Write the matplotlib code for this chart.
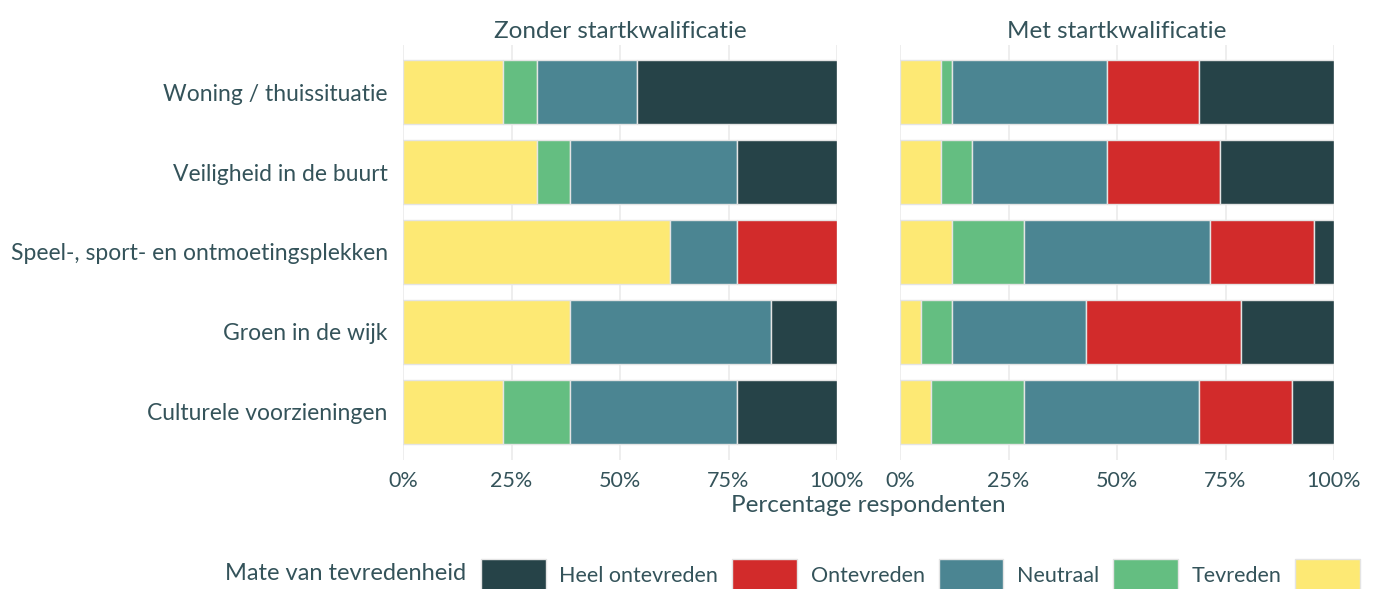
import matplotlib.pyplot as plt
from matplotlib.patches import Patch

plt.rcParams['font.family'] = ['Lato', 'DejaVu Sans']

TEXT = '#34535A'

categories = ['Woning / thuissituatie', 'Veiligheid in de buurt',
              'Speel-, sport- en ontmoetingsplekken', 'Groen in de wijk',
              'Culturele voorzieningen']
levels = ['Heel tevreden', 'Tevreden', 'Neutraal', 'Ontevreden', 'Heel ontevreden']
colors = ['#FDE974', '#64BE81', '#4B8592', '#D22B2B', '#264348']

# percentages per level, same order as categories
zonder_heel_tevreden = [23.1, 30.8, 61.5, 38.5, 23.1]
zonder_tevreden = [7.7, 7.7, 0, 0, 15.4]
zonder_neutraal = [23.1, 38.5, 15.4, 46.2, 38.5]
zonder_ontevreden = [0, 0, 23.1, 0, 0]
zonder_heel_ontevreden = [46.1, 23.0, 0, 15.3, 23.0]

met_heel_tevreden = [9.5, 9.5, 11.9, 4.8, 7.1]
met_tevreden = [2.4, 7.1, 16.7, 7.1, 21.4]
met_neutraal = [35.7, 31.0, 42.9, 31.0, 40.5]
met_ontevreden = [21.4, 26.2, 23.8, 35.7, 21.4]
met_heel_ontevreden = [31.0, 26.2, 4.7, 21.4, 9.6]

panels = [
    ('Zonder startkwalificatie', [zonder_heel_tevreden, zonder_tevreden, zonder_neutraal,
                                  zonder_ontevreden, zonder_heel_ontevreden]),
    ('Met startkwalificatie', [met_heel_tevreden, met_tevreden, met_neutraal,
                               met_ontevreden, met_heel_ontevreden]),
]

W, H = 1376, 589
fig = plt.figure(figsize=(W / 100, H / 100), dpi=100)

ax_left = [403, 900]
ax_w = 434
top, bottom = 44.5, 459.5

for i, (title, series) in enumerate(panels):
    ax = fig.add_axes([ax_left[i] / W, 1 - bottom / H, ax_w / W, (bottom - top) / H])
    ypos = list(range(len(categories)))
    left = [0.0] * len(categories)
    for vals, col in zip(series, colors):
        for y in ypos:
            if vals[y] > 0:
                ax.barh(y, vals[y], left=left[y], height=0.8, color=col,
                        edgecolor='#E4E4E4', linewidth=1, zorder=2)
            left[y] += vals[y]
    ax.set_xlim(0, 100)
    ax.set_ylim(len(categories) - 0.4, -0.6)
    ax.set_xticks([0, 25, 50, 75, 100])
    ax.set_xticklabels(['0%', '25%', '50%', '75%', '100%'])
    ax.set_yticks(ypos)
    if i == 0:
        ax.set_yticklabels(categories)
    else:
        ax.set_yticklabels([])
    ax.tick_params(axis='x', length=0, labelsize=15.5, labelcolor=TEXT, pad=8)
    ax.tick_params(axis='y', length=0, labelsize=16.5, labelcolor=TEXT, pad=11)
    ax.grid(axis='x', color='#EBEBEB', linewidth=1.2, zorder=0)
    ax.set_axisbelow(True)
    for s in ax.spines.values():
        s.set_visible(False)
    ax.set_title(title, fontsize=17.5, color=TEXT, pad=5, fontweight='normal')

fig.text(868 / W, 1 - 506 / H, 'Percentage respondenten', ha='center', va='center',
         fontsize=17.5, color=TEXT)

# legend (last label falls off the right edge, as in the original)
fig.text(225 / W, 1 - 574 / H, 'Mate van tevredenheid', ha='left', va='center',
         fontsize=17, color=TEXT)
handles = [Patch(facecolor=c, edgecolor='#E4E4E4', linewidth=1)
           for c in reversed(colors)]
labels = list(reversed(levels))
labels[-1] = ''
fig.legend(handles, labels, loc='center left',
           bbox_to_anchor=(479 / W, 1 - 575 / H), ncol=5, frameon=False,
           fontsize=15.5, labelcolor=TEXT, handlelength=3.0, handleheight=1.85,
           handletextpad=0.63, columnspacing=0.66, borderaxespad=0, borderpad=0.1)

fig.savefig('out.png', dpi=100, facecolor='white')
